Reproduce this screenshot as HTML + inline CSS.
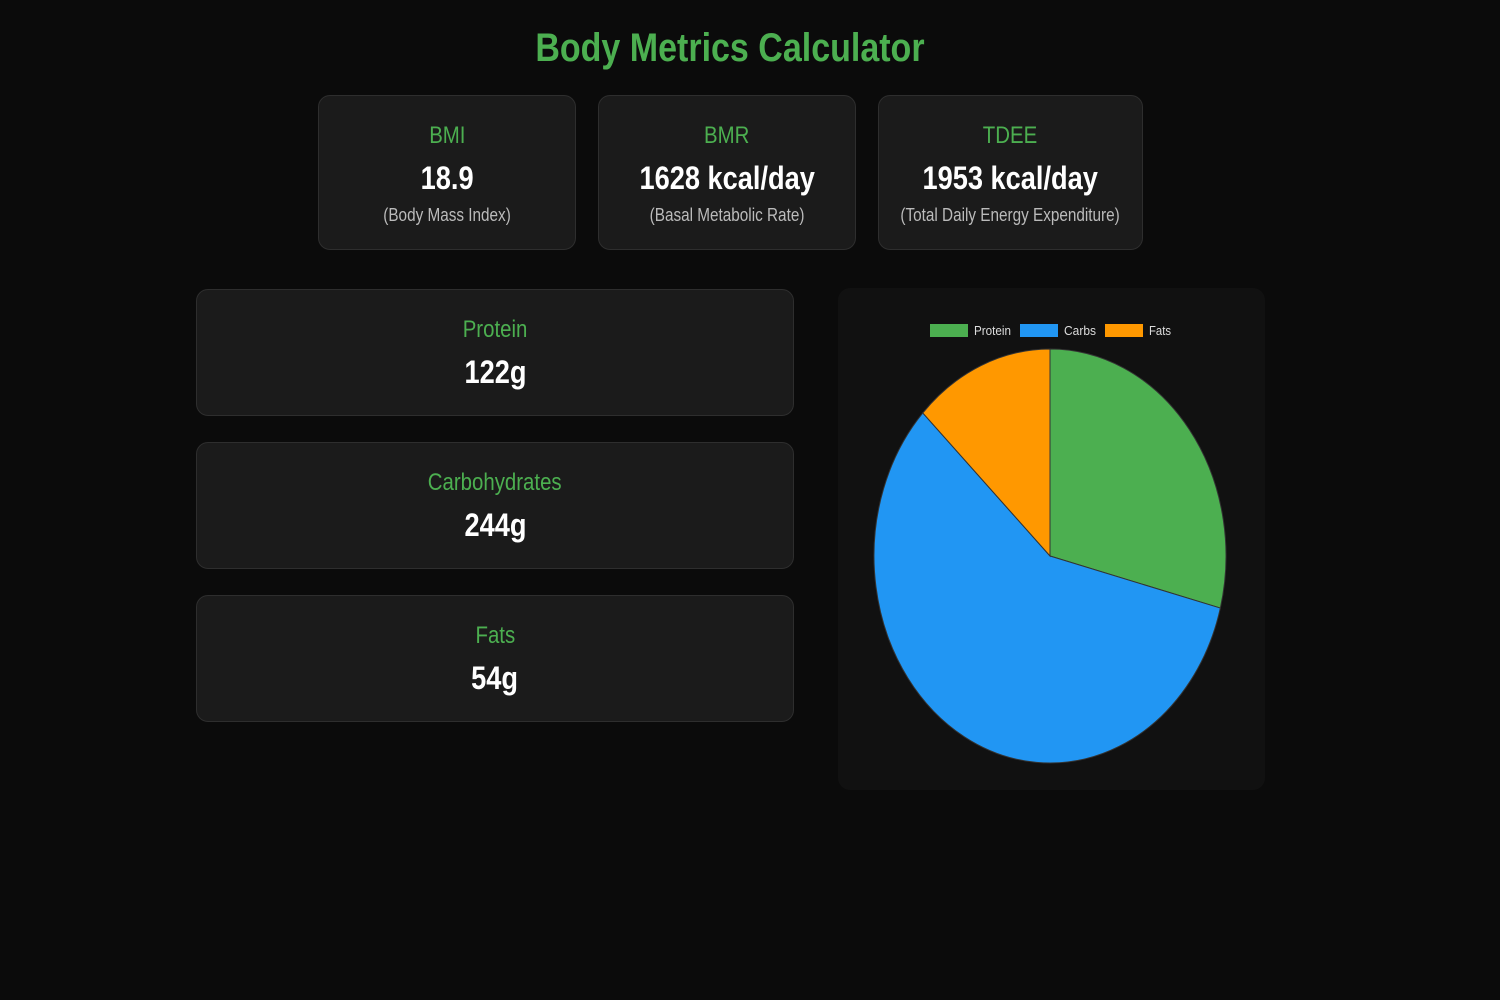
<!DOCTYPE html>
<html><head><meta charset="utf-8"><style>
body{margin:0;width:1500px;height:1000px;background:#0b0b0b;font-family:"Liberation Sans",sans-serif;position:relative;overflow:hidden}
.abs{position:absolute;box-sizing:border-box}
.card{background:#1b1b1b;border:1px solid #2e2e2e;border-radius:12px;text-align:center}
.card>div>span,h1>span{display:inline-block;transform:scaleX(0.85);white-space:nowrap}
.lab{color:#4caf50;font-size:24px}
.val{color:#fff;font-size:32px;font-weight:bold}
.sub{color:#bbb;font-size:18px}
h1{position:absolute;left:0;width:1460px;top:26px;margin:0;text-align:center;color:#4caf50;font-size:40px;font-weight:bold}
</style></head><body>
<h1><span>Body Metrics Calculator</span></h1>
<div class="abs card" style="left:318px;top:95px;width:258px;height:155px">
<div class="lab" style="margin-top:26px"><span>BMI</span></div><div class="val" style="margin-top:10px"><span>18.9</span></div><div class="sub" style="margin-top:8px"><span>(Body Mass Index)</span></div></div>
<div class="abs card" style="left:598px;top:95px;width:258px;height:155px">
<div class="lab" style="margin-top:26px"><span>BMR</span></div><div class="val" style="margin-top:10px"><span>1628 kcal/day</span></div><div class="sub" style="margin-top:8px"><span>(Basal Metabolic Rate)</span></div></div>
<div class="abs card" style="left:878px;top:95px;width:265px;height:155px">
<div class="lab" style="margin-top:26px"><span>TDEE</span></div><div class="val" style="margin-top:10px"><span>1953 kcal/day</span></div><div class="sub" style="margin-top:8px"><span>(Total Daily Energy Expenditure)</span></div></div>

<div class="abs card" style="left:196px;top:289px;width:598px;height:127px">
<div class="lab" style="margin-top:26px"><span>Protein</span></div><div class="val" style="margin-top:10px"><span>122g</span></div></div>
<div class="abs card" style="left:196px;top:442px;width:598px;height:127px">
<div class="lab" style="margin-top:26px"><span>Carbohydrates</span></div><div class="val" style="margin-top:10px"><span>244g</span></div></div>
<div class="abs card" style="left:196px;top:595px;width:598px;height:127px">
<div class="lab" style="margin-top:26px"><span>Fats</span></div><div class="val" style="margin-top:10px"><span>54g</span></div></div>

<div class="abs" style="left:838px;top:288px;width:427px;height:502px;background:#111;border-radius:12px">
<svg id="pie" width="427" height="502"></svg>
</div>
<script>
const categories=["Protein","Carbs","Fats"];
const values=[122,244,54];
const colors=["#4caf50","#2196f3","#ff9800"];
const svg=document.getElementById('pie');
const NS='http://www.w3.org/2000/svg';
const cx=212,cy=268,rx=176,ry=207;
const total=values.reduce((a,b)=>a+b,0);
let a0=0;
values.forEach((v,i)=>{
  const a1=a0+v/total*2*Math.PI;
  const x0=cx+rx*Math.sin(a0),y0=cy-ry*Math.cos(a0),x1=cx+rx*Math.sin(a1),y1=cy-ry*Math.cos(a1);
  const p=document.createElementNS(NS,'path');
  p.setAttribute('d',`M${cx},${cy}L${x0},${y0}A${rx},${ry} 0 ${a1-a0>Math.PI?1:0} 1 ${x1},${y1}Z`);
  p.setAttribute('fill',colors[i]);p.setAttribute('stroke','#333');p.setAttribute('stroke-width','1');
  
  
  svg.appendChild(p);a0=a1;
});
const lx=[92,182,267];
const lw=[37,32,22];
categories.forEach((c,i)=>{
  const r=document.createElementNS(NS,'rect');
  r.setAttribute('x',lx[i]);r.setAttribute('y',36);r.setAttribute('width',38);r.setAttribute('height',13);r.setAttribute('fill',colors[i]);
  
  
  svg.appendChild(r);
  const t=document.createElementNS(NS,'text');
  t.setAttribute('x',lx[i]+44);t.setAttribute('y',47);t.setAttribute('fill','#ddd');t.setAttribute('font-size','13');
  t.setAttribute('textLength',lw[i]);t.setAttribute('lengthAdjust','spacingAndGlyphs');
  t.setAttribute('font-family','"Liberation Sans",sans-serif');
  t.textContent=c;
  
  
  svg.appendChild(t);
});
</script>
</body></html>
